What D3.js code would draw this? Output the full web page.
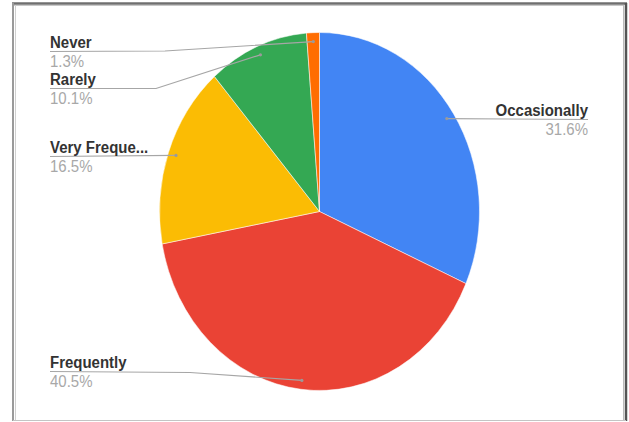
<!DOCTYPE html>
<html>
<head>
<meta charset="utf-8">
<script src="https://cdn.jsdelivr.net/npm/d3@7"></script>
<style>
  html, body { margin: 0; padding: 0; background: #fff; }
  svg { display: block; }
</style>
</head>
<body>
<svg id="chart" width="629" height="422"></svg>
<script>
// ---- data ----
const categories = ["Occasionally", "Frequently", "Very Frequently", "Rarely", "Never"];
const displayLabels = ["Occasionally", "Frequently", "Very Freque...", "Rarely", "Never"];
const values = [31.6, 40.5, 16.5, 10.1, 1.3];
const percentLabels = ["31.6%", "40.5%", "16.5%", "10.1%", "1.3%"];
const colors = ["#4285F4", "#EA4335", "#FBBC04", "#34A853", "#FF6D01"];

// ---- layout ----
const W = 629, H = 422;
const cx = 319.5, cy = 211.5, R = 160, ky = 179 / 160;
const svg = d3.select("#chart");

// frame
svg.append("line").attr("x1", 12).attr("x2", 627).attr("y1", 3.5).attr("y2", 3.5).attr("stroke", "#6f6f6f").attr("stroke-width", 2.5);
svg.append("line").attr("x1", 14).attr("x2", 624).attr("y1", 5.5).attr("y2", 5.5).attr("stroke", "#c8c8c8").attr("stroke-width", 1);
svg.append("line").attr("x1", 13).attr("x2", 13).attr("y1", 3).attr("y2", 421).attr("stroke", "#9a9a9a").attr("stroke-width", 2);
svg.append("line").attr("x1", 15.5).attr("x2", 15.5).attr("y1", 5).attr("y2", 421).attr("stroke", "#d0d0d0").attr("stroke-width", 1);
svg.append("line").attr("x1", 626).attr("x2", 626).attr("y1", 3).attr("y2", 421).attr("stroke", "#555").attr("stroke-width", 2.5);
svg.append("line").attr("x1", 623.5).attr("x2", 623.5).attr("y1", 5).attr("y2", 421).attr("stroke", "#bbb").attr("stroke-width", 1);
svg.append("line").attr("x1", 13).attr("x2", 626).attr("y1", 420.5).attr("y2", 420.5).attr("stroke", "#c4c4c4").attr("stroke-width", 1);

const pie = d3.pie().sort(null).value(d => d.v);
const data = values.map((v, i) => ({ v, i }));
const arcs = pie(data);
const arc = d3.arc().innerRadius(0).outerRadius(R);

const g = svg.append("g").attr("transform", `translate(${cx},${cy}) scale(1,${ky})`);
g.selectAll("path").data(arcs).enter().append("path")
  .attr("d", arc)
  .attr("fill", d => colors[d.data.i])
  .attr("stroke", "#fff").attr("stroke-width", 0.5);

// anchor points on slices (0.95 R along mid-angle)
function anchor(d) {
  const a = (d.startAngle + d.endAngle) / 2;
  return [cx + 0.95 * R * Math.sin(a), cy - 0.95 * R * Math.cos(a) * ky];
}

// label layout: [side, textX, lineY, elbowX, elbowY]
const labelLayout = {
  "Occasionally":    { side: "right", x: 588, y: 119.5, elbow: null },
  "Frequently":      { side: "left",  x: 50,  y: 371.5, elbow: [190, 372.5] },
  "Very Frequently": { side: "left",  x: 50,  y: 156.5, elbow: null },
  "Rarely":          { side: "left",  x: 50,  y: 88.5,  elbow: [156, 88.5] },
  "Never":           { side: "left",  x: 50,  y: 51.5,  elbow: [165, 51] }
};

const lab = svg.append("g");
arcs.forEach(d => {
  const i = d.data.i;
  const L = labelLayout[categories[i]];
  const [ax, ay] = anchor(d);
  const pts = [[L.x, L.y]];
  if (L.elbow) pts.push(L.elbow);
  pts.push([ax, ay]);
  lab.append("path")
    .attr("d", d3.line()(pts))
    .attr("fill", "none").attr("stroke", "#a6a6a6").attr("stroke-width", 1.2);
  lab.append("circle").attr("cx", ax).attr("cy", ay).attr("r", 1.6).attr("fill", "#9a9a9a");
  const anchorTxt = L.side === "right" ? "end" : "start";
  lab.append("text")
    .attr("transform", `translate(${L.x},${L.y - 4}) scale(1,1.12)`)
    .attr("text-anchor", anchorTxt)
    .attr("font-family", "Liberation Sans, Arial, sans-serif")
    .attr("font-size", 15).attr("font-weight", "bold")
    .attr("fill", "#333")
    .text(displayLabels[i]);
  lab.append("text")
    .attr("transform", `translate(${L.x},${L.y + 15.5}) scale(1,1.12)`)
    .attr("text-anchor", anchorTxt)
    .attr("font-family", "Liberation Sans, Arial, sans-serif")
    .attr("font-size", 15)
    .attr("fill", "#a8a8a8")
    .text(percentLabels[i]);
});
</script>
</body>
</html>
